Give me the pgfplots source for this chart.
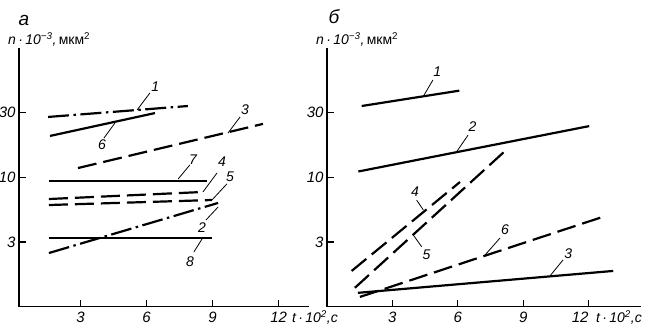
\documentclass[border=0pt]{standalone}
\usepackage{pgfplots}
\pgfplotsset{compat=1.18}
\usepackage{fontspec}
\setmainfont{Liberation Sans}
\newcommand{\tfont}{\fontsize{15}{17}\selectfont\itshape}
\newcommand{\lfont}{\fontsize{14}{16}\selectfont\itshape}
\tikzset{
  sol/.style={black, line width=2.2pt},
  dsh/.style={black, line width=2.2pt, dash pattern=on 19pt off 7pt},
  dd/.style={black, line width=2.2pt, dash pattern=on 21pt off 4.5pt on 2.5pt off 4.5pt},
  ldr/.style={black, line width=0.8pt},
}
\begin{document}
\begin{tikzpicture}[x=1pt,y=1pt]
\path[use as bounding box] (0,0) rectangle (646,332);

% ---------- panel a ----------
\begin{axis}[scale only axis, anchor=south west,
    ymode=log, ymin=1, ymax=100, height=258.7pt,
    axis x line*=bottom, axis y line*=left,
    axis line style={-, line width=1.4pt, black},
    tick align=inside, major tick length=7pt,
    tick style={black, line width=1.2pt},
    yminorticks=false, xminorticks=false,
    ytick={3.1623,10,31.623}, yticklabels={3,10,30},
    xtick={3,6,9,12}, xticklabels={3,6,9,12},
    ticklabel style={font=\tfont},
    xticklabel style={yshift=-2pt},
    clip=false,
    at={(19pt,25.3pt)}, width=290.4pt, xmin=0.2, xmax=13.4]
\addplot[dd]  coordinates {(1.52,29.3) (7.88,35.6)};   % 1
\addplot[sol] coordinates {(1.61,20.9) (6.38,31.4)};   % 6
\addplot[dsh] coordinates {(2.88,11.8) (11.29,25.9)};  % 3
\addplot[sol] coordinates {(1.56,9.42) (8.75,9.42)};   % 7
\addplot[dsh] coordinates {(1.56,6.80) (8.56,7.71)};   % 4
\addplot[dsh] coordinates {(1.56,6.11) (8.97,6.68)};   % 5
\addplot[dd]  coordinates {(1.56,2.60) (9.25,6.34)};   % 2
\addplot[sol] coordinates {(1.56,3.42) (8.97,3.42)};   % 8
\draw[ldr] (axis cs:5.57,33.2) -- (axis cs:6.15,44.9);
\node[font=\lfont] at (axis cs:6.39,50.0) {1};
\draw[ldr] (axis cs:4.56,26.3) -- (axis cs:4.06,20.1);
\node[font=\lfont] at (axis cs:3.97,17.8) {6};
\draw[ldr] (axis cs:9.70,22.0) -- (axis cs:10.25,29.3);
\node[font=\lfont] at (axis cs:10.47,33.2) {3};
\draw[ldr] (axis cs:7.43,9.7) -- (axis cs:7.97,12.5);
\node[font=\lfont] at (axis cs:8.11,13.6) {7};
\draw[ldr] (axis cs:8.56,7.71) -- (axis cs:9.2,10.8);
\node[font=\lfont] at (axis cs:9.43,13.2) {4};
\draw[ldr] (axis cs:8.97,6.68) -- (axis cs:9.65,8.9);
\node[font=\lfont] at (axis cs:9.79,10.1) {5};
\draw[ldr] (axis cs:9.25,5.9) -- (axis cs:8.7,4.68);
\node[font=\lfont] at (axis cs:8.52,4.06) {2};
\draw[ldr] (axis cs:8.52,3.34) -- (axis cs:8.15,2.65);
\node[font=\lfont] at (axis cs:7.97,2.22) {8};
\end{axis}

% ---------- panel b ----------
\begin{axis}[scale only axis, anchor=south west,
    ymode=log, ymin=1, ymax=100, height=258.7pt,
    axis x line*=bottom, axis y line*=left,
    axis line style={-, line width=1.4pt, black},
    tick align=inside, major tick length=7pt,
    tick style={black, line width=1.2pt},
    yminorticks=false, xminorticks=false,
    ytick={3.1623,10,31.623}, yticklabels={3,10,30},
    xtick={3,6,9,12}, xticklabels={3,6,9,\makebox[0pt][r]{12}},
    ticklabel style={font=\tfont},
    xticklabel style={yshift=-2pt},
    clip=false,
    at={(327pt,25.3pt)}, width=313.9pt, xmin=0, xmax=14.4]
\addplot[sol] coordinates {(1.59,35.6) (6.07,46.8)};   % 1
\addplot[sol] coordinates {(1.44,11.1) (12.03,24.9)};  % 2
\addplot[dsh] coordinates {(1.13,1.89) (6.10,9.2)};    % 4
\addplot[dsh] coordinates {(1.28,1.40) (8.17,16.0)};   % 5
\addplot[dsh] coordinates {(1.51,1.19) (12.67,4.96)};  % 6
\addplot[sol] coordinates {(1.42,1.28) (13.13,1.89)};  % 3
\draw[ldr] (axis cs:4.40,41.8) -- (axis cs:4.86,56.6);
\node[font=\lfont] at (axis cs:5.06,65.6) {1};
\draw[ldr] (axis cs:5.95,15.8) -- (axis cs:6.47,21.2);
\node[font=\lfont] at (axis cs:6.68,24.5) {2};
\draw[ldr] (axis cs:4.42,5.59) -- (axis cs:4.11,6.68);
\node[font=\lfont] at (axis cs:4.04,7.74) {4};
\draw[ldr] (axis cs:3.96,3.58) -- (axis cs:4.34,2.91);
\node[font=\lfont] at (axis cs:4.57,2.51) {5};
\draw[ldr] (axis cs:7.25,2.51) -- (axis cs:7.94,3.40);
\node[font=\lfont] at (axis cs:8.17,3.92) {6};
\draw[ldr] (axis cs:10.23,1.73) -- (axis cs:10.83,2.30);
\node[font=\lfont] at (axis cs:11.07,2.59) {3};
\end{axis}

% ---------- texts ----------
\node[anchor=base, font=\fontsize{19}{19}\selectfont\itshape] at (24,306) {а};
\node[anchor=base, font=\fontsize{19}{19}\selectfont\itshape] at (334,308) {б};
\node[anchor=base west, inner sep=0pt, font=\fontsize{14}{16}\selectfont] at (8,287)
  {\textit{n\,·\,10}\textsuperscript{\textit{−3}}\textit{,}\,мкм\textsuperscript{2}};
\node[anchor=base west, inner sep=0pt, font=\fontsize{14}{16}\selectfont] at (316,287)
  {\textit{n\,·\,10}\textsuperscript{\textit{−3}}\textit{,}\,мкм\textsuperscript{2}};
\node[anchor=base west, inner sep=0pt, font=\fontsize{14}{16}\selectfont\itshape] at (292,9)
  {t\,·\,10\textsuperscript{2},с};
\node[anchor=base west, inner sep=0pt, font=\fontsize{14}{16}\selectfont\itshape] at (596,9)
  {t\,·\,10\textsuperscript{2},с};
\end{tikzpicture}
\end{document}
